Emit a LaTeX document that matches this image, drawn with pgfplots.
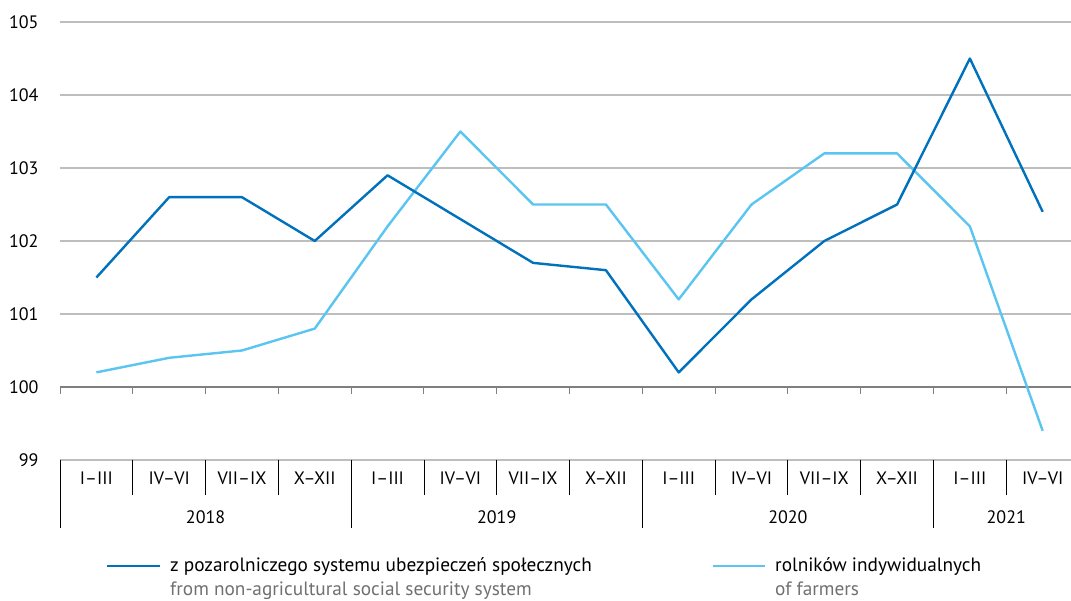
\documentclass[border=0pt]{standalone}
\usepackage{pgfplots}
\pgfplotsset{compat=1.18}
\usepackage{fontspec}
\setmainfont{PT Sans}
\definecolor{dblue}{HTML}{0071BC}
\definecolor{lblue}{HTML}{5BC5F2}
\definecolor{gridg}{HTML}{BEBEBE}
\definecolor{axg}{HTML}{7F7F7F}
\definecolor{txtg}{HTML}{707070}
\begin{document}
\begin{tikzpicture}[x=1pt,y=1pt]
\path[use as bounding box] (0pt,0pt) rectangle (1071pt,601pt);
\begin{axis}[
  at={(60pt,141pt)}, anchor=south west,
  scale only axis, width=1011pt, height=438pt,
  xmin=-0.5, xmax=13.389, ymin=99, ymax=105,
  axis line style={draw=none}, clip=false,
  xtick=\empty,
  ytick={99,...,105},
  ymajorgrids, major grid style={gridg, line width=1.3pt},
  major tick length=0pt,
  yticklabel style={xshift=-18pt},
  /pgf/number format/assume math mode=true,
  tick label style={font=\fontsize{18}{22}\selectfont},
  font=\fontsize{18}{22}\selectfont,
]
\draw[axg, line width=1.3pt] (axis cs:-0.5,100) -- (axis cs:13.389,100);
\pgfplotsinvokeforeach{-0.5,0.5,1.5,2.5,3.5,4.5,5.5,6.5,7.5,8.5,9.5,10.5,11.5,12.5}{
  \draw[axg, line width=1pt] (axis cs:#1,100) -- (axis cs:#1,99.9);
}
\pgfplotsinvokeforeach{0.5,1.5,2.5,4.5,5.5,6.5,8.5,9.5,10.5,12.5}{
  \draw[black, line width=0.9pt] (axis cs:#1,99) -- (axis cs:#1,98.52);
}
\pgfplotsinvokeforeach{-0.5,3.5,7.5,11.5}{
  \draw[black, line width=0.9pt] (axis cs:#1,99) -- (axis cs:#1,98.07);
}
\node at (axis cs:0,98.75) {I--III};
\node at (axis cs:1,98.75) {IV--VI};
\node at (axis cs:2,98.75) {VII--IX};
\node at (axis cs:3,98.75) {X--XII};
\node at (axis cs:4,98.75) {I--III};
\node at (axis cs:5,98.75) {IV--VI};
\node at (axis cs:6,98.75) {VII--IX};
\node at (axis cs:7,98.75) {X--XII};
\node at (axis cs:8,98.75) {I--III};
\node at (axis cs:9,98.75) {IV--VI};
\node at (axis cs:10,98.75) {VII--IX};
\node at (axis cs:11,98.75) {X--XII};
\node at (axis cs:12,98.75) {I--III};
\node at (axis cs:13,98.75) {IV--VI};
\node at (axis cs:1.5,98.22) {2018};
\node at (axis cs:5.5,98.22) {2019};
\node at (axis cs:9.5,98.22) {2020};
\node at (axis cs:12.5,98.22) {2021};
\addplot[lblue, line width=2.4pt, line join=round] coordinates {
(0,100.2) (1,100.4) (2,100.5) (3,100.8)
(4,102.2) (5,103.5) (6,102.5) (7,102.5)
(8,101.2) (9,102.5) (10,103.2) (11,103.2)
(12,102.2) (13,99.4)};
\addplot[dblue, line width=2.4pt, line join=round] coordinates {
(0,101.5) (1,102.6) (2,102.6) (3,102.0)
(4,102.9) (5,102.3) (6,101.7) (7,101.6)
(8,100.2) (9,101.2) (10,102.0) (11,102.5)
(12,104.5) (13,102.4)};
\end{axis}
\draw[dblue, line width=2.4pt] (107pt,35pt) -- (160pt,35pt);
\node[anchor=base west, inner sep=0pt, font=\fontsize{19.3}{22}\selectfont] at (170pt,29pt) {z pozarolniczego systemu ubezpieczeń społecznych};
\node[anchor=base west, inner sep=0pt, font=\fontsize{19.3}{22}\selectfont, text=txtg] at (170pt,5pt) {from non-agricultural social security system};
\draw[lblue, line width=2.4pt] (713pt,35pt) -- (765pt,35pt);
\node[anchor=base west, inner sep=0pt, font=\fontsize{19.3}{22}\selectfont] at (775pt,29pt) {rolników indywidualnych};
\node[anchor=base west, inner sep=0pt, font=\fontsize{19.3}{22}\selectfont, text=txtg] at (775pt,5pt) {of farmers};
\end{tikzpicture}
\end{document}
